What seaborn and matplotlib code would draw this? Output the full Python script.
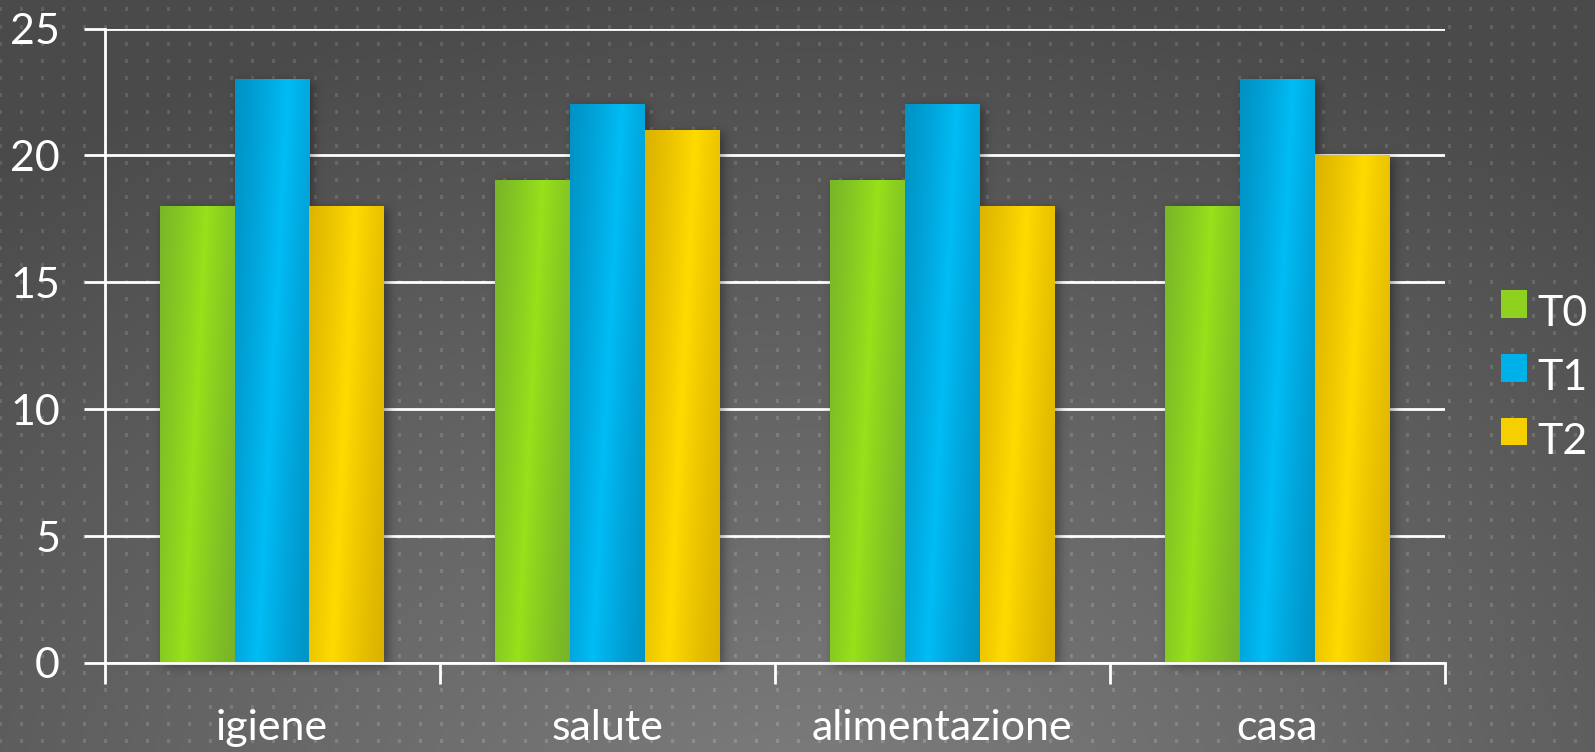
import numpy as np
import pandas as pd
import matplotlib
matplotlib.use("Agg")
import matplotlib.pyplot as plt
import seaborn as sns
from matplotlib.patches import Patch, Rectangle
from matplotlib.legend_handler import HandlerPatch

# ---- data ----
categories = ["igiene", "salute", "alimentazione", "casa"]
series = ["T0", "T1", "T2"]
t0_values = [18, 19, 19, 18]
t1_values = [23, 22, 22, 23]
t2_values = [18, 21, 18, 20]
y_ticks = [0, 5, 10, 15, 20, 25]

# ---- styling ----
base_colors = {"T0": "#8ed21f", "T1": "#00b0e8", "T2": "#f6cf00"}
dark_colors = {"T0": "#76b22a", "T1": "#0091c4", "T2": "#dab000"}
bright_colors = {"T0": "#98e11a", "T1": "#00bcf5", "T2": "#ffdb00"}

W, H, DPI = 1595, 752, 100
FONT = ["Lato", "DejaVu Sans"]

sns.set_theme(style="white")
plt.rcParams["font.family"] = FONT

df = pd.DataFrame({
    "categoria": categories * 3,
    "serie": np.repeat(series, len(categories)),
    "valore": t0_values + t1_values + t2_values,
})


def hex_rgb(h):
    h = h.lstrip("#")
    return np.array([int(h[i:i + 2], 16) for i in (0, 2, 4)], dtype=float) / 255.0


fig = plt.figure(figsize=(W / DPI, H / DPI), dpi=DPI)

# ---- dark backdrop with soft glow and dotted texture ----
yy, xx = np.mgrid[0:H, 0:W].astype(float)
d = np.sqrt(((xx - 820) / 1300) ** 2 + ((yy - 820) / 850) ** 2)
shade = 126 - 52 * np.clip(d, 0, 1)
dots = ((np.abs(((xx + 10.5) % 21) - 10.5) < 1.5) &
        (((yy - 7) % 17.01) < 4))
shade = shade + 22 * dots
bg = np.repeat((shade / 255.0)[:, :, None], 3, axis=2)
bg_ax = fig.add_axes([0, 0, 1, 1], zorder=0)
bg_ax.imshow(bg, extent=[0, W, H, 0], aspect="auto", interpolation="nearest")
bg_ax.set_axis_off()

# ---- plot area ----
left_px, right_px, top_px, bottom_px = 104.5, 1445, 28.5, 663
ax = fig.add_axes([left_px / W, (H - bottom_px) / H,
                   (right_px - left_px) / W, (bottom_px - top_px) / H], zorder=1)
ax.patch.set_alpha(0)

sns.barplot(data=df, x="categoria", y="valore", hue="serie", order=categories,
            hue_order=series, palette=base_colors, width=0.67, saturation=1,
            errorbar=None, linewidth=0, legend=False, ax=ax)

ax.set_xlim(-0.5, len(categories) - 0.5)
ax.set_ylim(0, 25)
ax.set_xlabel("")
ax.set_ylabel("")

# soft drop shadow under the bars
sx0, sx1, sy0, sy1 = -0.55, len(categories) - 0.45, -1.0, 25.5
px_per_x = (right_px - left_px) / len(categories)
px_per_y = (bottom_px - top_px) / 25.0
nx = int(round((sx1 - sx0) * px_per_x))
ny = int(round((sy1 - sy0) * px_per_y))
mask = np.zeros((ny, nx))
for cont in ax.containers:
    for rect in cont.patches:
        c0 = int(round((rect.get_x() - sx0) * px_per_x)) + 3
        c1 = int(round((rect.get_x() + rect.get_width() - sx0) * px_per_x)) + 3
        r0 = int(round((0 - sy0) * px_per_y)) - 3
        r1 = int(round((rect.get_height() - sy0) * px_per_y)) - 3
        mask[r0:r1, c0:c1] = 1.0
sig = 5.0
k = np.arange(-15, 16)
kern = np.exp(-0.5 * (k / sig) ** 2)
kern /= kern.sum()
blur = np.apply_along_axis(lambda r: np.convolve(r, kern, mode="same"), 1, mask)
blur = np.apply_along_axis(lambda c: np.convolve(c, kern, mode="same"), 0, blur)
shadow = np.zeros((ny, nx, 4))
shadow[..., 3] = 0.36 * blur
ax.imshow(shadow, extent=[sx0, sx1, sy0, sy1], origin="lower", aspect="auto",
          interpolation="bilinear", zorder=0.8, clip_on=False)

# shaded cylinder-like fill on every bar
for s, cont in zip(series, ax.containers):
    dk, br = hex_rgb(dark_colors[s]), hex_rgb(bright_colors[s])
    for rect in cont.patches:
        x0, w, h = rect.get_x(), rect.get_width(), rect.get_height()
        ncol, nrow = 80, 120
        t = (np.arange(ncol) + 0.5) / ncol
        yv = h * (np.arange(nrow) + 0.5) / nrow
        ctr = 0.3 + 0.45 * yv / 25.0
        wgt = np.clip(1 - np.abs(t[None, :] - ctr[:, None]) / 0.75, 0, 1) ** 1.3
        img = dk[None, None, :] + (br - dk)[None, None, :] * wgt[:, :, None]
        ax.imshow(img, extent=[x0, x0 + w, 0, h], origin="lower", aspect="auto",
                  interpolation="bilinear", zorder=rect.get_zorder() + 0.1)

ax.set_xlim(-0.5, len(categories) - 0.5)
ax.set_ylim(0, 25)

# grid, spines and ticks
ax.set_axisbelow(True)
ax.yaxis.grid(True, color="white", linewidth=2)
ax.xaxis.grid(False)
for side in ("top", "right"):
    ax.spines[side].set_visible(False)
for side in ("left", "bottom"):
    ax.spines[side].set_color("white")
    ax.spines[side].set_linewidth(2)
    ax.spines[side].set_zorder(3)

ax.set_yticks(y_ticks)
ax.set_yticklabels([str(v) for v in y_ticks])
ax.tick_params(axis="y", length=15, width=2, color="white", pad=17,
               labelsize=31, labelcolor="white", left=True)
ax.set_xticks(range(len(categories)))
ax.set_xticklabels(categories)
ax.set_xticks(np.arange(-0.5, len(categories)), minor=True)
ax.tick_params(axis="x", which="major", length=0, pad=33, labelsize=31,
               labelcolor="white")
ax.tick_params(axis="x", which="minor", length=15, width=2, color="white",
               bottom=True)
for lab in ax.get_xticklabels() + ax.get_yticklabels():
    lab.set_family(FONT)


# legend squares sit level with the capitals
def raised_square(legend, orig_handle, xdescent, ydescent, width, height, fontsize):
    return Rectangle((-xdescent, -ydescent + 5), width, height)


handles = [Patch(facecolor=base_colors[s], edgecolor="none", label=s) for s in series]
fig.legend(handles=handles, loc="center left",
           bbox_to_anchor=(1501 / W, (H - 378) / H), frameon=False,
           fontsize=31, labelcolor="white", handlelength=0.6, handleheight=0.6,
           handletextpad=0.25, labelspacing=0.6, borderpad=0, borderaxespad=0,
           handler_map={Patch: HandlerPatch(patch_func=raised_square)},
           prop={"family": FONT, "size": 31})

fig.savefig("out.png", dpi=DPI)
